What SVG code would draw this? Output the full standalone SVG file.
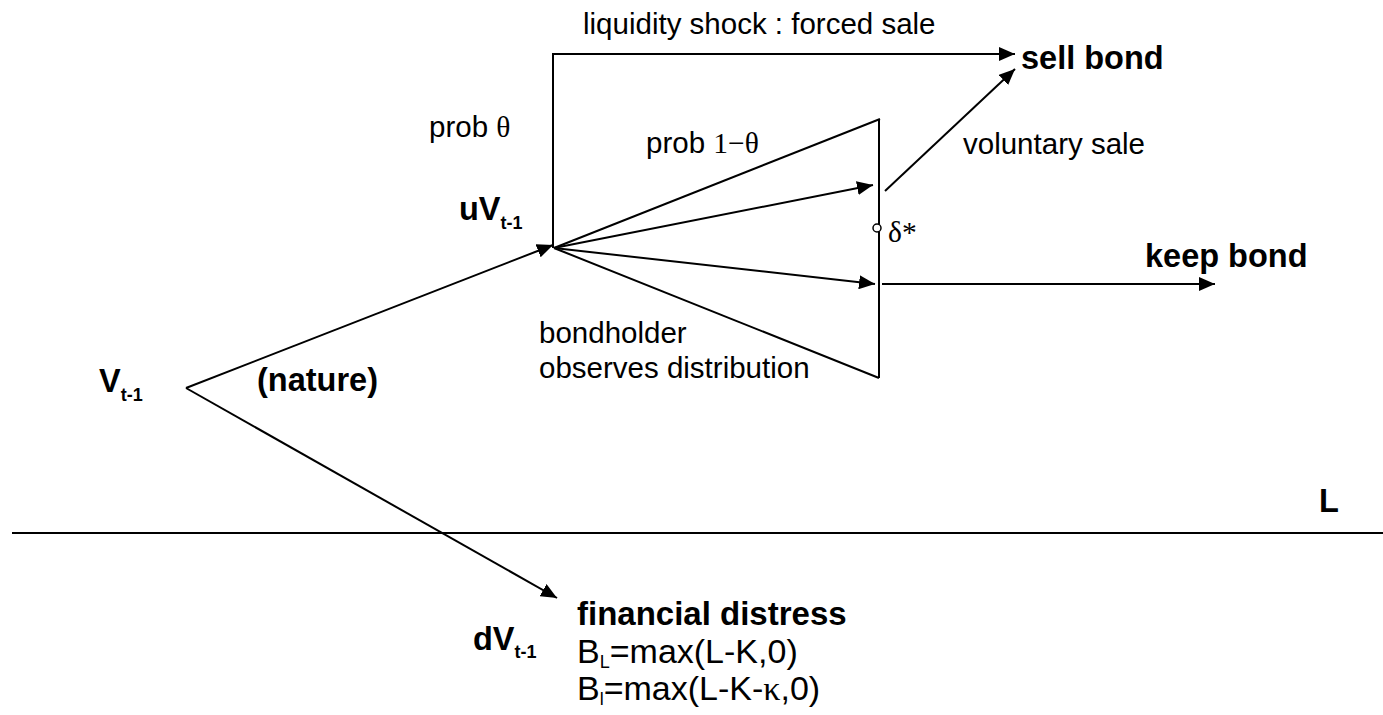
<svg xmlns="http://www.w3.org/2000/svg" width="1383" height="715" viewBox="0 0 1383 715">
<style>
.t{font-family:"Liberation Sans",Arial,sans-serif;font-size:29.5px;fill:#000}
.b{font-family:"Liberation Sans",Arial,sans-serif;font-size:32.5px;font-weight:bold;fill:#000}
.f{font-family:"Liberation Sans",Arial,sans-serif;font-size:34px;fill:#000}
.s{font-family:"Liberation Serif","Times New Roman",serif}
.sub{font-size:18px}
.ln{stroke:#000;stroke-width:2;fill:none}
</style>
<defs>
<marker id="ah" markerUnits="userSpaceOnUse" markerWidth="16" markerHeight="14" refX="16" refY="7" orient="auto" viewBox="0 0 16 14">
<path d="M0,0 L16,7 L0,14 z" fill="#000"/>
</marker>
</defs>
<rect width="1383" height="715" fill="#fff"/>
<g id="connectors">
<line class="ln" x1="186" y1="388" x2="553" y2="245" marker-end="url(#ah)"/>
<line class="ln" x1="186" y1="388" x2="557" y2="598" marker-end="url(#ah)"/>
<path class="ln" d="M553,248 V54 H1015" marker-end="url(#ah)"/>
<line class="ln" x1="554" y1="248" x2="880" y2="119"/>
<line class="ln" x1="554" y1="248" x2="873" y2="185" marker-end="url(#ah)"/>
<line class="ln" x1="554" y1="248" x2="875" y2="284" marker-end="url(#ah)"/>
<line class="ln" x1="554" y1="248" x2="879" y2="378"/>
<line class="ln" x1="879" y1="119" x2="879" y2="378"/>
<line class="ln" x1="885" y1="191" x2="1015" y2="69" marker-end="url(#ah)"/>
<line class="ln" x1="882" y1="284" x2="1215" y2="284" marker-end="url(#ah)"/>
<line class="ln" x1="12" y1="533" x2="1383" y2="533"/>
</g>
<g id="threshold">
<circle cx="877" cy="228" r="4" fill="#fff" stroke="#000" stroke-width="1.5"/>
<text class="t s" x="888" y="242">δ*</text>
</g>
<g id="liquidity-label"><text class="t" x="583" y="34">liquidity shock : forced sale</text></g>
<g id="sell-bond"><text class="b" x="1021" y="69">sell bond</text></g>
<g id="prob-theta"><text class="t" x="429" y="137">prob <tspan class="s">θ</tspan></text></g>
<g id="prob-1-theta"><text class="t" x="646" y="153">prob <tspan class="s">1−θ</tspan></text></g>
<g id="voluntary-sale"><text class="t" x="963" y="154">voluntary sale</text></g>
<g id="uV"><text class="b" x="459" y="220">uV<tspan class="sub" dy="9">t-1</tspan></text></g>
<g id="keep-bond"><text class="b" x="1145" y="267">keep bond</text></g>
<g id="bondholder">
<text class="t" x="539" y="343">bondholder</text>
<text class="t" x="539" y="378">observes distribution</text>
</g>
<g id="V"><text class="b" x="99" y="392">V<tspan class="sub" dy="9">t-1</tspan></text></g>
<g id="nature"><text class="b" x="257" y="391">(nature)</text></g>
<g id="L"><text class="b" x="1319" y="512">L</text></g>
<g id="dV"><text class="b" x="473" y="650">dV<tspan class="sub" dy="8">t-1</tspan></text></g>
<g id="financial-distress">
<text class="b" x="577" y="625" style="font-size:33px">financial distress</text>
<text class="f" x="577" y="663">B<tspan class="sub" dy="5">L</tspan><tspan dy="-5">=max(L-K,0)</tspan></text>
<text class="f" x="577" y="700">B<tspan class="sub" dy="5">l</tspan><tspan dy="-5">=max(L-K-</tspan><tspan class="s">κ</tspan>,0)</text>
</g>
</svg>
